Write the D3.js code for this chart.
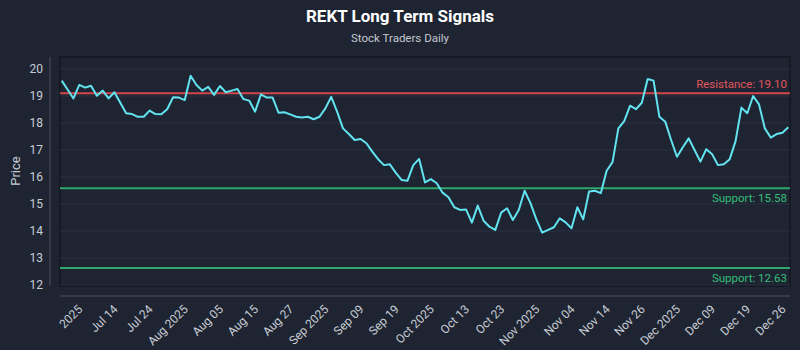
<!DOCTYPE html>
<html>
<head>
<meta charset="utf-8">
<script src="https://cdn.jsdelivr.net/npm/d3@7"></script>
<style>
  body { margin: 0; background: #1e2432; }
  text { font-family: Roboto, "Noto Sans", sans-serif; }
</style>
</head>
<body>
<script>
// closing prices, one per trading day
const prices = [
  19.57, 19.24, 18.91, 19.41, 19.31, 19.38, 19.01, 19.20, 18.91, 19.14,
  18.75, 18.36, 18.33, 18.23, 18.23, 18.46, 18.33, 18.32, 18.51, 18.95,
  18.94, 18.85, 19.75, 19.41, 19.20, 19.34, 19.04, 19.37, 19.14, 19.20,
  19.26, 18.89, 18.83, 18.42, 19.06, 18.94, 18.94, 18.38, 18.40, 18.32,
  18.23, 18.20, 18.23, 18.14, 18.23, 18.54, 18.97, 18.42, 17.80, 17.59,
  17.37, 17.41, 17.25, 16.94, 16.66, 16.44, 16.47, 16.16, 15.89, 15.86,
  16.44, 16.67, 15.80, 15.92, 15.77, 15.42, 15.25, 14.88, 14.78, 14.80,
  14.31, 14.94, 14.38, 14.16, 14.04, 14.68, 14.84, 14.41, 14.78, 15.49,
  15.03, 14.43, 13.94, 14.04, 14.14, 14.47, 14.32, 14.10, 14.88, 14.43,
  15.46, 15.49, 15.40, 16.23, 16.55, 17.80, 18.07, 18.64, 18.51, 18.75,
  19.63, 19.57, 18.23, 18.05, 17.37, 16.75, 17.10, 17.43, 17.00, 16.57,
  17.03, 16.84, 16.44, 16.47, 16.66, 17.33, 18.57, 18.36, 19.00, 18.69,
  17.80, 17.46, 17.59, 17.64, 17.84
];

const xTickLabels = ["2025", "Jul 14", "Jul 24", "Aug 2025", "Aug 05", "Aug 15", "Aug 27",
  "Sep 2025", "Sep 09", "Sep 19", "Oct 2025", "Oct 13", "Oct 23", "Nov 2025", "Nov 04",
  "Nov 14", "Nov 26", "Dec 2025", "Dec 09", "Dec 19", "Dec 26"];
const xTickIndex = [3, 9, 15, 21, 27, 33, 39, 45, 51, 57, 63, 69, 75, 81, 87, 93, 99, 105, 111, 117, 123];

const yTicks = [12, 13, 14, 15, 16, 17, 18, 19, 20];

const resistance = [19.10];
const supports = [15.58, 12.63];

const width = 800, height = 350;
const plot = { left: 60, right: 790, top: 57, bottom: 286 };

const svg = d3.select('body').append('svg')
  .attr('width', width)
  .attr('height', height);

svg.append('rect')
  .attr('width', width)
  .attr('height', height)
  .attr('fill', '#1e2432');

// title + subtitle
svg.append('text')
  .attr('x', 400)
  .attr('y', 22)
  .attr('text-anchor', 'middle')
  .style('font-size', '17px')
  .style('font-weight', 'bold')
  .attr('fill', '#ffffff')
  .text('REKT Long Term Signals');

svg.append('text')
  .attr('x', 400)
  .attr('y', 42)
  .attr('text-anchor', 'middle')
  .style('font-size', '11.5px')
  .attr('fill', '#c4c8d0')
  .text('Stock Traders Daily');

// scales
const x = d3.scaleLinear()
  .domain([0, prices.length - 1])
  .range([61.7, 788.3]);

const y = d3.scaleLinear()
  .domain([12, 20])
  .range([285, 69]);

// plot frame
svg.append('rect')
  .attr('x', plot.left)
  .attr('y', plot.top)
  .attr('width', plot.right - plot.left)
  .attr('height', plot.bottom - plot.top)
  .attr('fill', '#1e2432')
  .attr('stroke', '#121620')
  .attr('stroke-width', 1.5);

// horizontal grid
svg.append('g')
  .selectAll('line')
  .data(yTicks)
  .enter()
  .append('line')
    .attr('x1', plot.left)
    .attr('x2', plot.right)
    .attr('y1', d => y(d))
    .attr('y2', d => y(d))
    .attr('stroke', '#2a3142')
    .attr('stroke-width', 1);

// y axis
const yAxis = d3.axisLeft(y)
  .tickValues(yTicks)
  .tickSize(0)
  .tickPadding(7);

const gy = svg.append('g')
  .attr('transform', 'translate(50, 0)')
  .call(yAxis);
gy.select('.domain')
  .attr('d', `M0,${plot.top}V${plot.bottom}`)
  .attr('stroke', '#4a5162');
gy.selectAll('text')
  .style('font-size', '12px')
  .attr('fill', '#c8ccd4');

svg.append('text')
  .attr('transform', 'translate(20, 171) rotate(-90)')
  .attr('text-anchor', 'middle')
  .style('font-size', '13px')
  .attr('fill', '#c8ccd4')
  .text('Price');

// x axis
svg.append('line')
  .attr('x1', plot.left)
  .attr('x2', plot.right)
  .attr('y1', 296)
  .attr('y2', 296)
  .attr('stroke', '#4a5162');

svg.append('g')
  .selectAll('text')
  .data(xTickLabels)
  .enter()
  .append('text')
    .attr('transform', (d, i) => `translate(${x(xTickIndex[i]) + 4}, 310) rotate(-45)`)
    .attr('text-anchor', 'end')
    .style('font-size', '12px')
    .attr('fill', '#c8ccd4')
    .text(d => d);

// resistance / support lines
svg.append('g')
  .selectAll('line')
  .data(resistance)
  .enter()
  .append('line')
    .attr('x1', plot.left)
    .attr('x2', plot.right)
    .attr('y1', d => y(d))
    .attr('y2', d => y(d))
    .attr('stroke', '#d4464c')
    .attr('stroke-width', 2);

svg.append('g')
  .selectAll('text')
  .data(resistance)
  .enter()
  .append('text')
    .attr('x', 787)
    .attr('y', d => y(d) - 5)
    .attr('text-anchor', 'end')
    .style('font-size', '11.5px')
    .attr('fill', '#e0575d')
    .text(d => 'Resistance: ' + d.toFixed(2));

svg.append('g')
  .selectAll('line')
  .data(supports)
  .enter()
  .append('line')
    .attr('x1', plot.left)
    .attr('x2', plot.right)
    .attr('y1', d => y(d))
    .attr('y2', d => y(d))
    .attr('stroke', '#2ea86a')
    .attr('stroke-width', 2);

svg.append('g')
  .selectAll('text')
  .data(supports)
  .enter()
  .append('text')
    .attr('x', 787)
    .attr('y', d => y(d) + 14)
    .attr('text-anchor', 'end')
    .style('font-size', '11.5px')
    .attr('fill', '#34bf77')
    .text(d => 'Support: ' + d.toFixed(2));

// price line
const line = d3.line()
  .x((d, i) => x(i))
  .y(d => y(d));

svg.append('path')
  .datum(prices)
  .attr('d', line)
  .attr('fill', 'none')
  .attr('stroke', '#62e3f0')
  .attr('stroke-width', 2)
  .attr('stroke-linejoin', 'round');
</script>
</body>
</html>
